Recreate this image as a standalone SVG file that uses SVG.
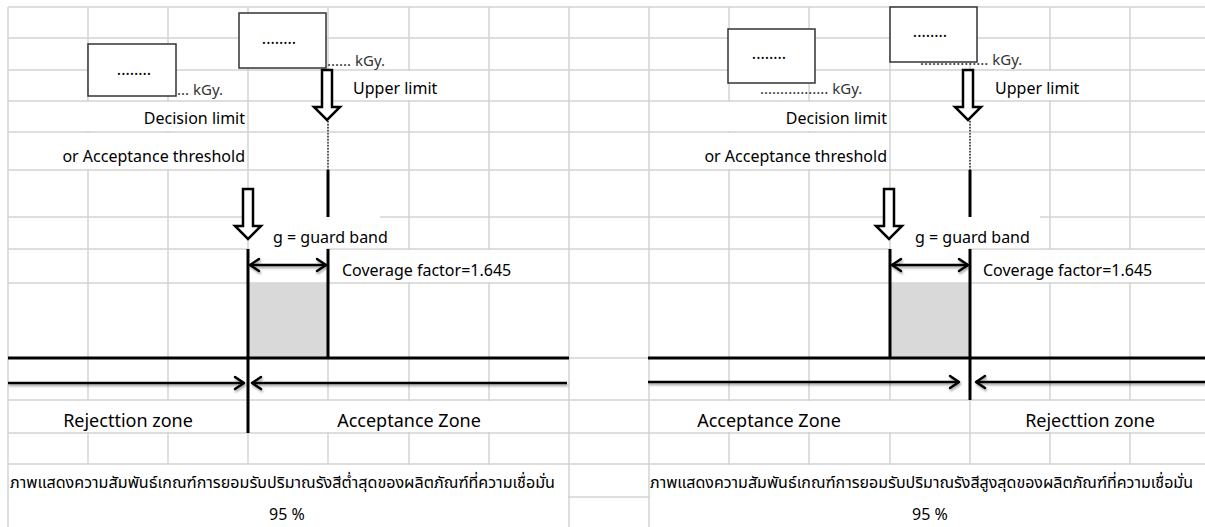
<svg xmlns="http://www.w3.org/2000/svg" width="1205" height="527" viewBox="0 0 1205 527">
<defs>
<style>
.grid{stroke:#d4d4d4;stroke-width:1.5;fill:none}
.cover{fill:#fff}
.t{font-family:"Noto Sans","Noto Sans Thai","DejaVu Sans",sans-serif;font-size:16px;fill:#000}
.zone{font-size:18px}
.cap{font-size:16px}
.kgy{font-size:15px;fill:#333}
.box{fill:#fff;stroke:#333;stroke-width:1.5}
.thick{stroke:#000;stroke-width:3;fill:none}
.arr{stroke:#000;stroke-width:2.5;fill:none}
.hollow{fill:#fff;stroke:#000;stroke-width:2.5;stroke-linejoin:miter}
.dot{stroke:#000;stroke-width:1.2;stroke-dasharray:1.5 1.5;fill:none}
.band{fill:#d9d9d9}
</style>
<marker id="head" markerUnits="userSpaceOnUse" markerWidth="20" markerHeight="20" refX="0" refY="0" viewBox="-12 -10 20 20" orient="auto-start-reverse" overflow="visible">
<path d="M-9,-6 L0,0 L-9,6" fill="none" stroke="#000" stroke-width="2.5" stroke-linecap="round" stroke-linejoin="round"/>
</marker>
<path id="hol" d="M-5,0 H5 V37 H13 L0,50 L-13,37 H-5 Z"/>
<filter id="sh" filterUnits="userSpaceOnUse" x="0" y="0" width="1205" height="527">
<feDropShadow dx="1" dy="2" stdDeviation="1.2" flood-color="#000" flood-opacity="0.35"/>
</filter>
</defs>
<rect width="1205" height="527" fill="#fff"/>
<g id="grid" class="grid">
<path d="M8,7H1205M8,38H1205M8,70H1205M8,101H1205M8,132H1205M8,170H1205M8,217H1205M8,249H1205M8,283H1205M8,358H1205M8,400H1205M8,433H1205M8,464H1205M8,497H1205"/>
<path d="M8,7V527M88,7V527M168,7V527M248,7V527M328,7V527M409,7V527M489,7V527M569,7V527M649,7V527M729,7V527M809,7V527M890,7V527M970,7V527M1050,7V527M1130,7V527"/>
</g>
<g id="covers" class="cover">
<rect x="9" y="102" width="238" height="29"/>
<rect x="9" y="133" width="238" height="36"/>
<rect x="329" y="71" width="159" height="29"/>
<rect x="249" y="216" width="131" height="32.2"/>
<rect x="249" y="248" width="78" height="34"/>
<rect x="329" y="250" width="239" height="32"/>
<rect x="9" y="401" width="237" height="31"/>
<rect x="250" y="401" width="318" height="31"/>
<rect x="9" y="465" width="559" height="62"/>
<rect x="650" y="102" width="239" height="29"/>
<rect x="650" y="133" width="239" height="36"/>
<rect x="971" y="71" width="158" height="29"/>
<rect x="891" y="216" width="149" height="32.2"/>
<rect x="891" y="248" width="78" height="34"/>
<rect x="971" y="250" width="234" height="32"/>
<rect x="650" y="401" width="319" height="31"/>
<rect x="971" y="401" width="234" height="31"/>
<rect x="650" y="465" width="555" height="62"/>
</g>
<g id="guard-band-left"><rect class="band" x="248" y="283" width="80" height="75"/></g>
<g id="guard-band-right"><rect class="band" x="890" y="283" width="80" height="75"/></g>
<g id="connectors">
<g id="limit-lines">
<path class="thick" d="M8,358H569M648,358H1205"/>
<path class="thick" d="M248,249V433M328,170V217M328,249V358"/>
<path class="thick" d="M890,249V358M970,170V217M970,249V400"/>
<path class="dot" d="M328,121V170M970,121V170"/>
</g>
<g id="arrows" filter="url(#sh)">
<path class="arr" d="M8,383H244" marker-end="url(#head)"/>
<path class="arr" d="M567,383H252" marker-end="url(#head)"/>
<path class="arr" d="M648,382H959" marker-end="url(#head)"/>
<path class="arr" d="M1205,382H976" marker-end="url(#head)"/>
<path class="arr" d="M250,265H326" marker-start="url(#head)" marker-end="url(#head)"/>
<path class="arr" d="M892,265H968" marker-start="url(#head)" marker-end="url(#head)"/>
</g>
<g id="hollow-arrows">
<use href="#hol" class="hollow" x="327" y="70"/>
<use href="#hol" class="hollow" x="248" y="189"/>
<use href="#hol" class="hollow" x="968" y="70"/>
<use href="#hol" class="hollow" x="889" y="189"/>
</g>
</g>
<g id="box-lower-left"><rect class="box" x="88" y="44" width="88" height="52"/><text class="t" x="134" y="75" text-anchor="middle">........</text></g>
<g id="box-upper-left"><rect class="box" x="239" y="13" width="87" height="55"/><text class="t" x="279" y="44" text-anchor="middle">........</text></g>
<g id="box-lower-right"><rect class="box" x="728" y="29" width="87" height="54"/><text class="t" x="769" y="59" text-anchor="middle">........</text></g>
<g id="box-upper-right"><rect class="box" x="890" y="7" width="87" height="55"/><text class="t" x="930" y="37" text-anchor="middle">........</text></g>
<g id="labels-left">
<text class="t kgy" x="177" y="95">... kGy.</text>
<text class="t kgy" x="327" y="66">...... kGy.</text>
<text class="t" x="353" y="94">Upper limit</text>
<text class="t" x="245" y="124" text-anchor="end">Decision limit</text>
<text class="t" x="245" y="162" text-anchor="end">or Acceptance threshold</text>
<text class="t" x="273" y="243">g = guard band</text>
<text class="t" x="342" y="276">Coverage factor=1.645</text>
<text class="t zone" x="128" y="427" text-anchor="middle">Rejecttion zone</text>
<text class="t zone" x="409" y="427" text-anchor="middle">Acceptance Zone</text>
<text class="t cap" x="10" y="488" textLength="545" lengthAdjust="spacingAndGlyphs">ภาพแสดงความสัมพันธ์เกณฑ์การยอมรับปริมาณรังสีต่ำสุดของผลิตภัณฑ์ที่ความเชื่อมั่น</text>
<text class="t cap" x="287" y="520" text-anchor="middle">95 %</text>
</g>
<g id="labels-right">
<text class="t kgy" x="760" y="94">................. kGy.</text>
<text class="t kgy" x="920" y="65">................. kGy.</text>
<text class="t" x="995" y="94">Upper limit</text>
<text class="t" x="887" y="124" text-anchor="end">Decision limit</text>
<text class="t" x="887" y="162" text-anchor="end">or Acceptance threshold</text>
<text class="t" x="915" y="243">g = guard band</text>
<text class="t" x="983" y="276">Coverage factor=1.645</text>
<text class="t zone" x="769" y="427" text-anchor="middle">Acceptance Zone</text>
<text class="t zone" x="1090" y="427" text-anchor="middle">Rejecttion zone</text>
<text class="t cap" x="650" y="488" textLength="543" lengthAdjust="spacingAndGlyphs">ภาพแสดงความสัมพันธ์เกณฑ์การยอมรับปริมาณรังสีสูงสุดของผลิตภัณฑ์ที่ความเชื่อมั่น</text>
<text class="t cap" x="930" y="520" text-anchor="middle">95 %</text>
</g>
</svg>
